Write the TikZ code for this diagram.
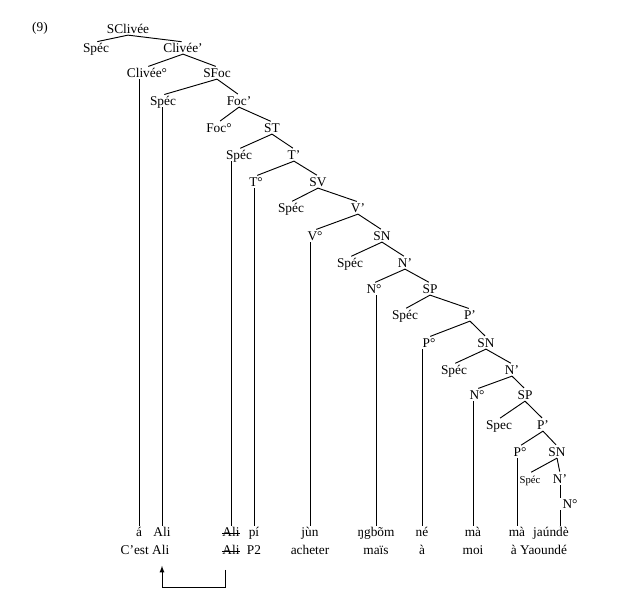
\documentclass[tikz,border=0pt]{standalone}
\usepackage{fontspec}
\setmainfont{Liberation Serif}
\usetikzlibrary{arrows}

\begin{document}
\begin{tikzpicture}[x=0.75pt,y=-0.75pt,line width=0.7pt,
 lbl/.style={inner sep=0.5pt,text height=7pt,text depth=0.5pt},
 wd/.style={inner sep=0.5pt,text height=7pt,text depth=1.5pt},
 struck/.style={wd,path picture={\draw[line width=0.5pt]
   ([yshift=4.6pt]path picture bounding box.south west) --
   ([yshift=4.6pt]path picture bounding box.south east);}}]
 \useasboundingbox (0,0) rectangle (618,599);
 \node (ex) at (40,28) {(9)};

 % labels
 \node[lbl] (sclivee) at (128,29) {SClivée};
 \node[lbl] (spec1) at (96,48) {Spéc};
 \node[lbl] (clivee1) at (183,48) {Clivée’};
 \node[lbl] (clivee0) at (147,73) {Clivée°};
 \node[lbl] (sfoc) at (217,73) {SFoc};
 \node[lbl] (spec2) at (163,101) {Spéc};
 \node[lbl] (foc1) at (239,101) {Foc’};
 \node[lbl] (foc0) at (219,128) {Foc°};
 \node[lbl] (st) at (272,128) {ST};
 \node[lbl] (spec3) at (239,155) {Spéc};
 \node[lbl] (t1) at (294,155) {T’};
 \node[lbl] (t0) at (256,182) {T°};
 \node[lbl] (sv) at (318,182) {SV};
 \node[lbl] (spec4) at (291,208) {Spéc};
 \node[lbl] (v1) at (358,208) {V’};
 \node[lbl] (v0) at (315,236) {V°};
 \node[lbl] (sn1) at (382,236) {SN};
 \node[lbl] (spec5) at (350,263) {Spéc};
 \node[lbl] (n1) at (405,263) {N’};
 \node[lbl] (n0) at (374,289) {N°};
 \node[lbl] (sp1) at (430,289) {SP};
 \node[lbl] (spec6) at (405,315) {Spéc};
 \node[lbl] (p1) at (470,315) {P’};
 \node[lbl] (p0) at (429,343) {P°};
 \node[lbl] (sn2) at (486,343) {SN};
 \node[lbl] (spec7) at (454,370) {Spéc};
 \node[lbl] (n2) at (512,370) {N’};
 \node[lbl] (n02) at (477,395) {N°};
 \node[lbl] (sp2) at (525,395) {SP};
 \node[lbl] (spec8) at (499,425) {Spec};
 \node[lbl] (p2) at (543,425) {P’};
 \node[lbl] (p02) at (520,452) {P°};
 \node[lbl] (sn3) at (557,452) {SN};
 \node[lbl,font=\footnotesize] (spec9) at (530,479) {Spéc};
 \node[lbl] (n3) at (560,479) {N’};
 \node[lbl] (n03) at (570,504) {N°};

 % branches
 \foreach \a/\b in {sclivee/spec1,sclivee/clivee1,clivee1/clivee0,clivee1/sfoc,
   sfoc/spec2,sfoc/foc1,foc1/foc0,foc1/st,st/spec3,st/t1,t1/t0,t1/sv,
   sv/spec4,sv/v1,v1/v0,v1/sn1,sn1/spec5,sn1/n1,n1/n0,n1/sp1,
   sp1/spec6,sp1/p1,p1/p0,p1/sn2,sn2/spec7,sn2/n2,n2/n02,n2/sp2,
   sp2/spec8,sp2/p2,p2/p02,p2/sn3,sn3/spec9,sn3/n3} {
  \draw[shorten >=1pt] (\a.south) -- (\b.north);
 };
 \draw (n3.south) -- (n3.south |- n03.north);

 % words
 \node[wd] (w1) at (139,533) {á};
 \node[wd] (w2) at (162,533) {Ali};
 \node[wd] (g1) at (145,551) {C’est Ali};
 \node[struck] (w3) at (231,533) {Ali};
 \node[struck] (g3) at (231,551) {Ali};
 \node[wd] (w4) at (254,533) {pí};
 \node[wd] (g4) at (254,551) {P2};
 \node[wd] (w5) at (310,533) {jùn};
 \node[wd] (g5) at (310,551) {acheter};
 \node[wd] (w6) at (376,533) {ŋgbõm};
 \node[wd] (g6) at (376,551) {maïs};
 \node[wd] (w7) at (422,533) {né};
 \node[wd] (g7) at (422,551) {à};
 \node[wd] (w8) at (473,533) {mà};
 \node[wd] (g8) at (473,551) {moi};
 \node[wd] (w9) at (517,533) {mà};
 \node[wd] (w10) at (551,533) {jaúndè};
 \node[wd] (g9) at (539,551) {à Yaoundé};

 % heads down to words
 \foreach \a/\b in {clivee0/w1,spec2/w2,spec3/w3,t0/w4,v0/w5,n0/w6,p0/w7,n02/w8,p02/w9} {
  \draw (\b |- \a.south) -- (\b.north);
 };
 \coordinate (w10d) at ([xshift=-7pt]w10.north east);
 \draw (w10d |- n03.south) -- (w10d);

 % movement
 \coordinate (mv) at (225,587);
 \draw[-latex,shorten <=9pt,shorten >=6pt] ([xshift=-4.5pt]g3.south) |- (w2 |- mv) -- (w2 |- g1.south);
\end{tikzpicture}
\end{document}
